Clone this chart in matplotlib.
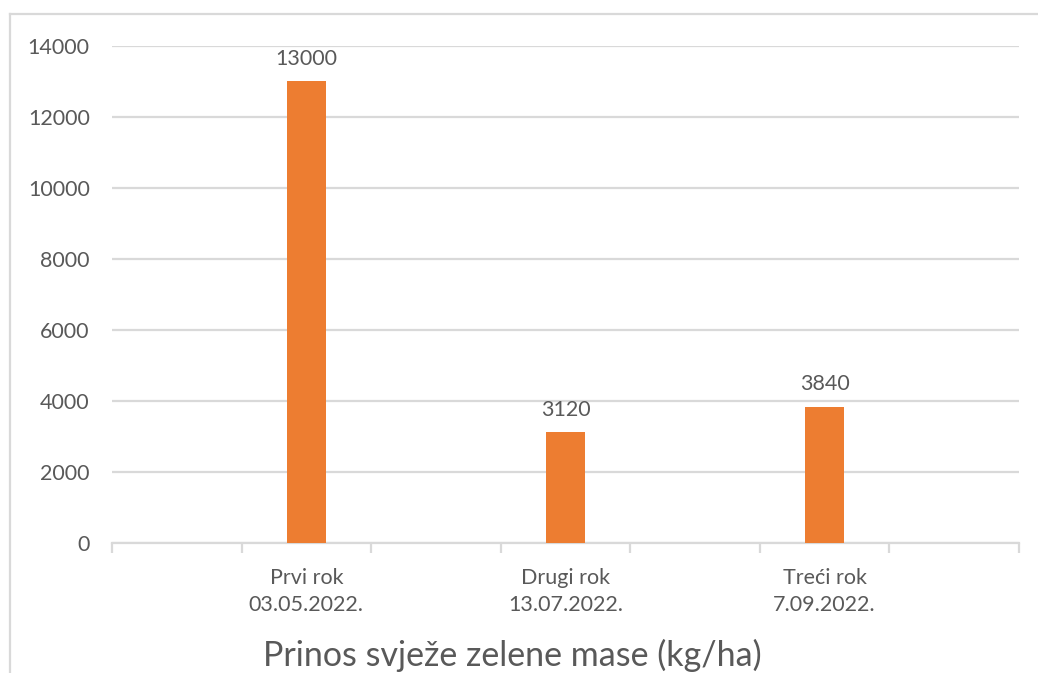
import matplotlib
matplotlib.use("Agg")
import matplotlib.pyplot as plt
from matplotlib.lines import Line2D

categories = ["", "Prvi rok\n03.05.2022.", "", "Drugi rok\n13.07.2022.", "", "Treći rok\n7.09.2022.", ""]
values = [None, 13000, None, 3120, None, 3840, None]
yticks = [0, 2000, 4000, 6000, 8000, 10000, 12000, 14000]
title = "Prinos svježe zelene mase (kg/ha)"

plt.rcParams['font.family'] = ['Lato', 'DejaVu Sans']
text_color = "#595959"
grid_color = "#d9d9d9"
bar_color = "#ED7D31"
fs = 15.5

fig = plt.figure(figsize=(10.38, 6.73), dpi=100)
ax = fig.add_axes([112/1038, 1-543/673, (1019-112)/1038, (543-46)/673])

xs = list(range(len(categories)))
for x, v in zip(xs, values):
    if v is None:
        continue
    ax.bar(x, v, width=0.3, color=bar_color, zorder=3)
    ax.annotate(f"{v}", (x, v), xytext=(0, 9), textcoords="offset points",
                ha="center", va="bottom", fontsize=fs, color=text_color)

ax.set_xlim(-0.5, len(categories) - 0.5)
ax.set_ylim(0, 14000)
ax.set_yticks(yticks)
ax.set_yticklabels([str(t) for t in yticks], fontsize=fs, color=text_color)
ax.yaxis.grid(True, color=grid_color, linewidth=1.6, zorder=0)
ax.set_axisbelow(True)

ax.set_xticks(xs)
ax.set_xticklabels(categories, fontsize=fs, color=text_color, linespacing=1.45)
ax.set_xticks([x - 0.5 for x in xs] + [xs[-1] + 0.5], minor=True)
ax.tick_params(axis='x', which='major', length=0, pad=18)
ax.tick_params(axis='x', which='minor', length=7, width=1.6, color=grid_color, direction='out')
ax.tick_params(axis='y', length=0, pad=16)

for s in ['top', 'right', 'left']:
    ax.spines[s].set_visible(False)
ax.spines['bottom'].set_color(grid_color)
ax.spines['bottom'].set_linewidth(1.6)

fig.text(512/1038, 1-655/673, title, ha="center", va="center", fontsize=24.5, color=text_color)

# chart-area border (top and left edges visible)
fig.add_artist(Line2D([10/1038, 1.0], [1-14/673, 1-14/673], color=grid_color, linewidth=1.6, transform=fig.transFigure))
fig.add_artist(Line2D([10/1038, 10/1038], [0, 1-14/673], color=grid_color, linewidth=1.6, transform=fig.transFigure))

fig.savefig("out.png", dpi=100)
